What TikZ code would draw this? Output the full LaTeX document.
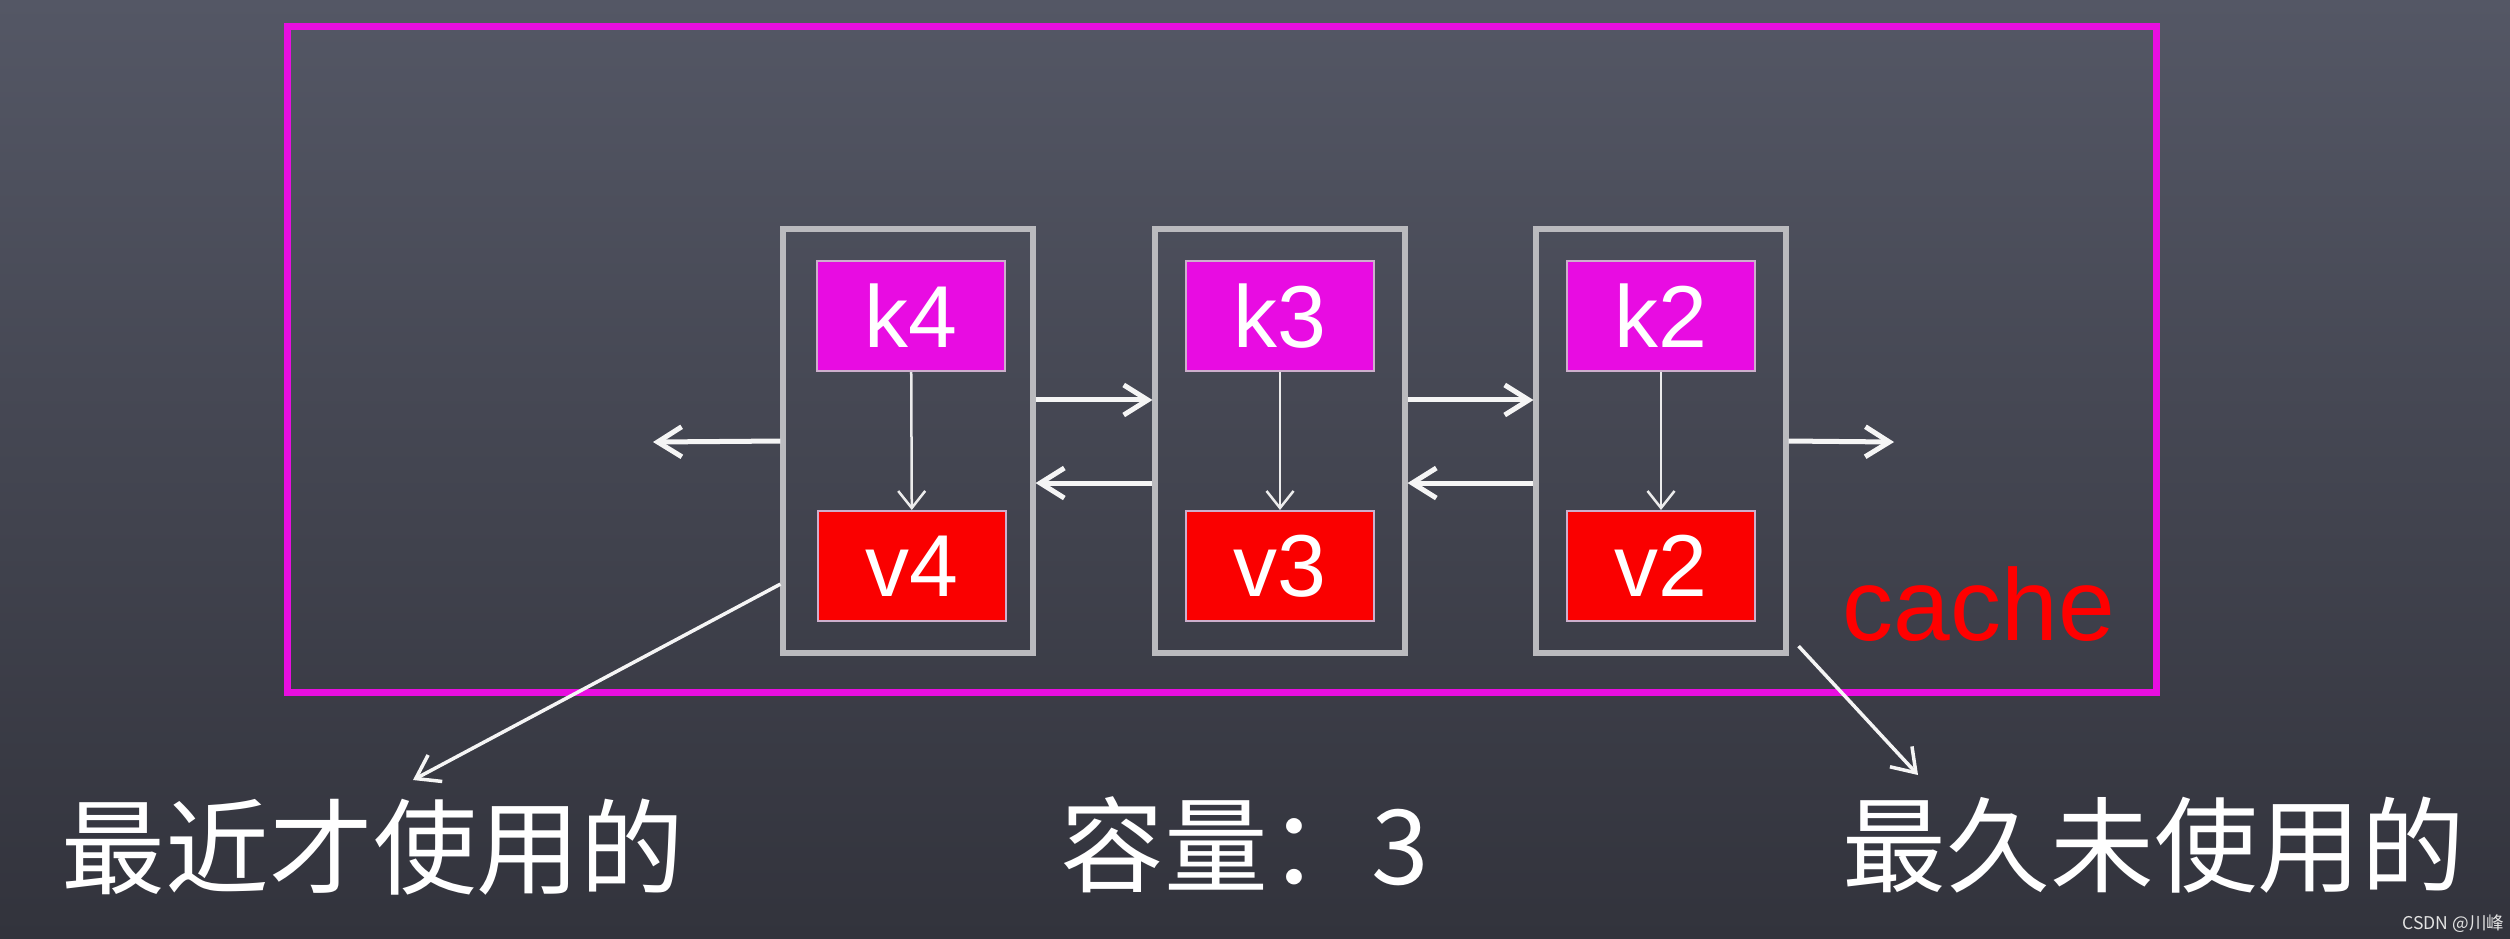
\documentclass[tikz,border=0pt]{standalone}
\usepackage{fontspec}
\setmainfont{Liberation Sans}
\newfontfamily\cjk{Noto Sans CJK SC}
\usetikzlibrary{arrows.meta}
\definecolor{boardtop}{RGB}{84,87,101}
\definecolor{boardbot}{RGB}{50,51,60}
\definecolor{cachepink}{RGB}{232,14,224}
\definecolor{keypink}{RGB}{232,12,226}
\definecolor{valred}{RGB}{250,0,0}
\definecolor{cellline}{RGB}{186,186,190}
\definecolor{keyline}{RGB}{205,175,205}

\begin{document}
\begin{tikzpicture}[x=0.01cm, y=-0.01cm,
    cachebox/.style={draw=cachepink, line width=0.07cm, minimum width=18.68cm, minimum height=6.65cm, inner sep=0},
    cell/.style={draw=cellline, line width=0.06cm, minimum width=2.49cm, minimum height=4.24cm, inner sep=0},
    key/.style={fill=keypink, draw=keyline, line width=0.02cm, minimum width=1.87cm, minimum height=1.1cm, inner sep=0, text=white, font=\fontsize{25}{25}\selectfont},
    val/.style={key, fill=valred},
    link/.style={draw=white!92!gray, line width=0.05cm, -{Straight Barb[length=0.24cm,width=0.3cm]}},
    ptr/.style={draw=white!85!gray, line width=0.025cm, -{Straight Barb[length=0.17cm,width=0.27cm]}},
    hint/.style={draw=white!92!gray, line width=0.035cm, -{Straight Barb[length=0.22cm,width=0.3cm]}},
    note/.style={inner sep=0, text=white, font=\cjk\fontsize{29.5}{29.5}\selectfont}]
    \shade[top color=boardtop, bottom color=boardbot] (0,0) rectangle (2510,938);
    \node (frame) [cachebox] at (1222,359.5) {};
    \node (b4) [cell] at (908,441) {};
    \node (b3) [cell] at (1280,441) {};
    \node (b2) [cell] at (1661,441) {};
    \node (k4) [key] at (911,316) {k4};
    \node (v4) [val] at (912,566) {v4};
    \node (k3) [key] at (1280,316) {k3};
    \node (v3) [val] at (1280,566) {v3};
    \node (k2) [key] at (1661,316) {k2};
    \node (v2) [val] at (1661,566) {v2};
    \draw[ptr] (k4) -- (v4);
    \draw[ptr] (k3) -- (v3);
    \draw[ptr] (k2) -- (v2);
    \draw[link] ([yshift=0.41cm]b4.east) -- ([yshift=0.41cm]b3.west);
    \draw[link] ([yshift=-0.42cm]b3.west) -- ([yshift=-0.42cm]b4.east);
    \draw[link] ([yshift=0.41cm]b3.east) -- ([yshift=0.41cm]b2.west);
    \draw[link] ([yshift=-0.42cm]b2.west) -- ([yshift=-0.42cm]b3.east);
    \coordinate (headout) at (653,442);
    \coordinate (tailout) at (1894,442);
    \draw[link] (b4.west) -- (headout);
    \draw[link] (b2.east) -- (tailout);
    \node (tag) [anchor=base, text=red, font=\fontsize{29}{29}\selectfont, inner sep=0] at (1979,640) {cache};
    \node (recent) [note] at (373,847) {最近才使用的};
    \node (size) [note] at (1245,845) {容量：3};
    \node (oldest) [note] at (2154,845) {最久未使用的};
    \coordinate (recentend) at (413,780);
    \coordinate (oldestend) at (1918,775);
    \draw[hint] ([yshift=-1.43cm]b4.west) -- (recentend);
    \draw[hint] ([shift={(0.1cm,0.1cm)}]b2.south east) -- (oldestend);
    \node (mark) [anchor=east, inner sep=0, text=white!78!gray, font=\cjk\fontsize{5}{5}\selectfont] at (2505,924) {CSDN @川峰};
\end{tikzpicture}
\end{document}
